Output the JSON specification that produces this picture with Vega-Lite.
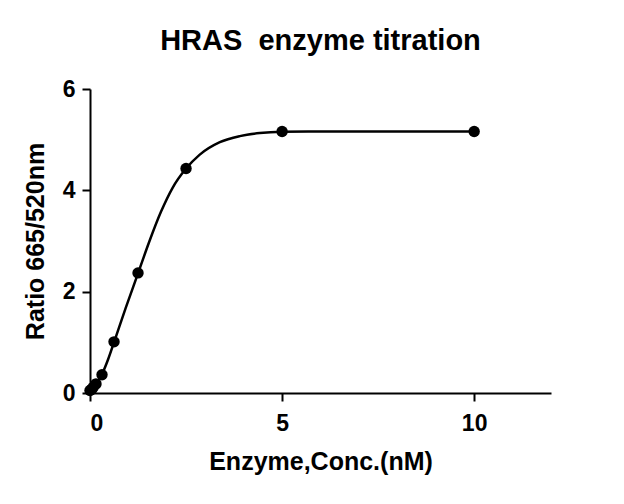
{
  "$schema": "https://vega.github.io/schema/vega-lite/v6.json",
  "background": "white",
  "padding": {"left": 23, "top": 27, "right": 10, "bottom": 10},
  "width": 461,
  "height": 304,
  "title": {
    "text": "HRAS\u00a0 enzyme titration",
    "font": "Liberation Sans",
    "fontSize": 29,
    "fontWeight": "bold",
    "color": "black",
    "offset": 22
  },
  "config": {
    "view": {"stroke": null},
    "axis": {
      "grid": false,
      "domainColor": "black",
      "domainWidth": 2,
      "tickColor": "black",
      "tickWidth": 2,
      "tickSize": 8,
      "labelFont": "Liberation Sans",
      "labelFontSize": 23,
      "labelFontWeight": "bold",
      "labelColor": "black",
      "labelPadding": 7,
      "titleFont": "Liberation Sans",
      "titleFontSize": 25,
      "titleFontWeight": "bold",
      "titleColor": "black"
    }
  },
  "datasets": {
    "measured": [
      {"conc": 0, "ratio": 0.05},
      {"conc": 0.039, "ratio": 0.07},
      {"conc": 0.078, "ratio": 0.11},
      {"conc": 0.156, "ratio": 0.18},
      {"conc": 0.3125, "ratio": 0.36},
      {"conc": 0.625, "ratio": 1.01},
      {"conc": 1.25, "ratio": 2.37},
      {"conc": 2.5, "ratio": 4.43},
      {"conc": 5, "ratio": 5.16},
      {"conc": 10, "ratio": 5.16}
    ],
    "fit": [
      {"conc": 0, "ratio": 0.04},
      {"conc": 0.156, "ratio": 0.17},
      {"conc": 0.3125, "ratio": 0.37},
      {"conc": 0.47, "ratio": 0.66},
      {"conc": 0.625, "ratio": 1.0},
      {"conc": 0.93, "ratio": 1.68},
      {"conc": 1.25, "ratio": 2.36},
      {"conc": 1.53, "ratio": 2.96},
      {"conc": 1.85, "ratio": 3.58},
      {"conc": 2.15, "ratio": 4.05},
      {"conc": 2.5, "ratio": 4.43},
      {"conc": 2.85, "ratio": 4.7},
      {"conc": 3.38, "ratio": 4.95},
      {"conc": 3.9, "ratio": 5.07},
      {"conc": 4.42, "ratio": 5.13},
      {"conc": 5, "ratio": 5.155},
      {"conc": 6, "ratio": 5.16},
      {"conc": 10, "ratio": 5.16}
    ]
  },
  "encoding": {
    "x": {
      "field": "conc",
      "type": "quantitative",
      "scale": {"domain": [0, 12], "nice": false, "zero": true},
      "axis": {"values": [0, 5, 10], "title": "Enzyme,Conc.(nM)", "labelPadding": 11, "titlePadding": 14}
    },
    "y": {
      "field": "ratio",
      "type": "quantitative",
      "scale": {"domain": [0, 6], "nice": false},
      "axis": {"values": [0, 2, 4, 6], "title": "Ratio 665/520nm", "titlePadding": 14}
    }
  },
  "layer": [
    {
      "data": {"name": "fit"},
      "mark": {"type": "line", "color": "black", "strokeWidth": 2.5, "interpolate": "monotone"}
    },
    {
      "data": {"name": "measured"},
      "mark": {"type": "point", "filled": true, "color": "black", "opacity": 1, "size": 130}
    }
  ]
}
